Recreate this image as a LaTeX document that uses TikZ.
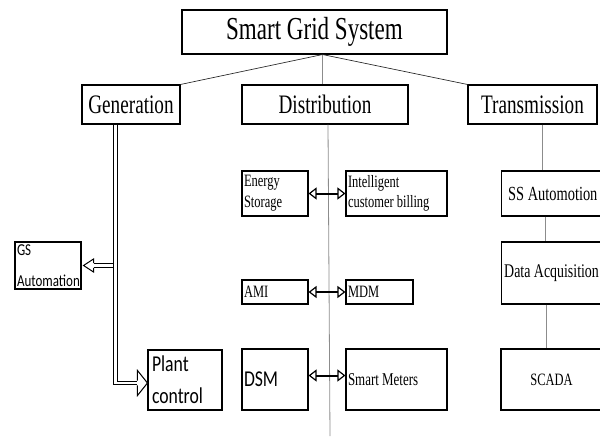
\documentclass[tikz,border=0pt]{standalone}
\usepackage{fontspec}
\setmainfont{Liberation Serif}[FakeStretch=0.72]
\newfontfamily\calfont{Carlito}[FakeStretch=0.78]
\usetikzlibrary{arrows.meta, calc, positioning}

\begin{document}
\begin{tikzpicture}[
  x=0.75pt, y=-0.75pt,
  box/.style={draw, line width=0.8pt, fill=white, inner xsep=1.5pt, inner ysep=0pt, align=flush left},
  head/.style={draw, line width=0.8pt, fill=white, inner sep=0pt, align=center, minimum height=29.25pt},
  tree/.style={line width=0.5pt, color=black!85},
  spine/.style={line width=0.6pt, color=black!45},
  biarrow/.style={{Triangle[open,length=6pt,width=9pt,line width=0.9pt]}-{Triangle[open,length=6pt,width=9pt,line width=0.9pt]}, line width=1.5pt},
  dbl/.style={line width=0.75pt, double=white, double distance=2.2pt},
  tip/.style={line width=0.75pt, fill=white, line join=miter}
]
\useasboundingbox (0,0) rectangle (600,436);

% --- top of the tree ---
\node[head, minimum width=198.75pt, minimum height=33pt, font=\fontsize{24}{28}\selectfont] (sgs) at (314.5,32) {Smart Grid System};
\node[head, minimum width=73.5pt, font=\fontsize{20}{24}\selectfont] (gen) at (131,104.5) {Generation};
\node[head, minimum width=124.5pt, font=\fontsize{20}{24}\selectfont] (dist) at (325,104.5) {Distribution};
\node[head, minimum width=96.75pt, font=\fontsize{20}{24}\selectfont] (trans) at (532.5,104.5) {Transmission};

\coordinate (hub) at ($(sgs.south)+(8,0)$);
\draw[tree] (hub) -- (gen.north east);
\draw[tree] (hub) -- (trans.north west);
\draw[spine] (hub) -- (hub |- dist.north);

% --- distribution column ---
\coordinate (spinetop) at ($(dist.south)+(3,0)$);
\coordinate (spineend) at (330,436);
\draw[spine] (spinetop) -- (spineend);

\node[box, text width=46.5pt, minimum height=33.75pt, font=\fontsize{13}{15.5}\selectfont] (es) at (275,193.5) {Energy\\Storage};
\node[box, text width=72.75pt, minimum height=33.75pt, font=\fontsize{13}{15.5}\selectfont] (icb) at (396.5,193.5) {Intelligent\\customer billing};
\node[box, text width=46.5pt, minimum height=18pt, font=\fontsize{13}{15}\selectfont] (ami) at (275,292) {AMI};
\node[box, text width=47.25pt, minimum height=18pt, font=\fontsize{13}{15}\selectfont] (mdm) at (379.5,292) {MDM};
\node[box, text width=46.5pt, minimum height=45.75pt, font=\calfont\fontsize{17}{20}\selectfont] (dsm) at (275,379.5) {DSM};
\node[box, text width=72.75pt, minimum height=45.75pt, font=\fontsize{13.5}{16}\selectfont] (sm) at (396.5,379.5) {Smart Meters};

\draw[biarrow] (es.east) -- (icb.west);
\draw[biarrow] (ami.east) -- (mdm.west);
\draw[biarrow] ($(dsm.east)+(0,-4)$) -- ($(sm.west)+(0,-4)$);

% --- transmission column ---
\node[box, anchor=west, inner xsep=5pt, text width=80pt, minimum height=33.75pt, font=\fontsize{15}{18}\selectfont] (ss) at (501,193.5) {SS Automotion};
\node[box, anchor=west, inner xsep=2pt, text width=90pt, minimum height=46.5pt, font=\fontsize{14.5}{18}\selectfont] (da) at (501,273) {Data Acquisition};
\node[box, align=center, text width=72.75pt, minimum height=45.75pt, font=\fontsize{13}{16}\selectfont] (scada) at (551.5,379.5) {SCADA};

\draw[spine] ($(trans.south)+(10,0)$) -- ($(trans.south |- ss.north)+(10,0)$);
\draw[spine] ($(ss.south -| trans.south)+(13,0)$) -- ($(da.north -| trans.south)+(13,0)$);
\draw[spine] ($(da.south -| trans.south)+(14,0)$) -- ($(scada.north -| trans.south)+(14,0)$);

% --- generation column ---
\node[box, text width=46.5pt, minimum height=35.25pt, font=\calfont\fontsize{12.5}{23}\selectfont] (gs) at (48,265.5) {GS\\Automation};
\node[box, inner xsep=3pt, text width=49.5pt, minimum height=45pt, font=\calfont\fontsize{17}{24}\selectfont] (pc) at (185,380) {Plant\\control};

\coordinate (gdrop) at ($(gen.south west)+(34,0)$);
\coordinate (gstip) at ($(gs.east)+(2,0)$);
\coordinate (gsbase) at ($(gstip)+(10,0)$);
\coordinate (pctip) at ($(pc.west)+(0,3)$);
\coordinate (pcbase) at ($(pctip)+(-10,0)$);

\draw[dbl] ($(gdrop |- gstip)+(-2.4,0)$) -- (gsbase);
\draw[dbl] (gdrop) -- (gdrop |- pcbase) -- (pcbase);
\draw[tip] ($(gsbase)+(0,-2.4)$) -- ($(gsbase)+(0,-6.5)$) -- (gstip) -- ($(gsbase)+(0,6.5)$) -- ($(gsbase)+(0,2.4)$);
\draw[tip] ($(pcbase)+(0,-2.4)$) -- ($(pcbase)+(0,-12.5)$) -- (pctip) -- ($(pcbase)+(0,12.5)$) -- ($(pcbase)+(0,2.4)$);

\end{tikzpicture}
\end{document}
